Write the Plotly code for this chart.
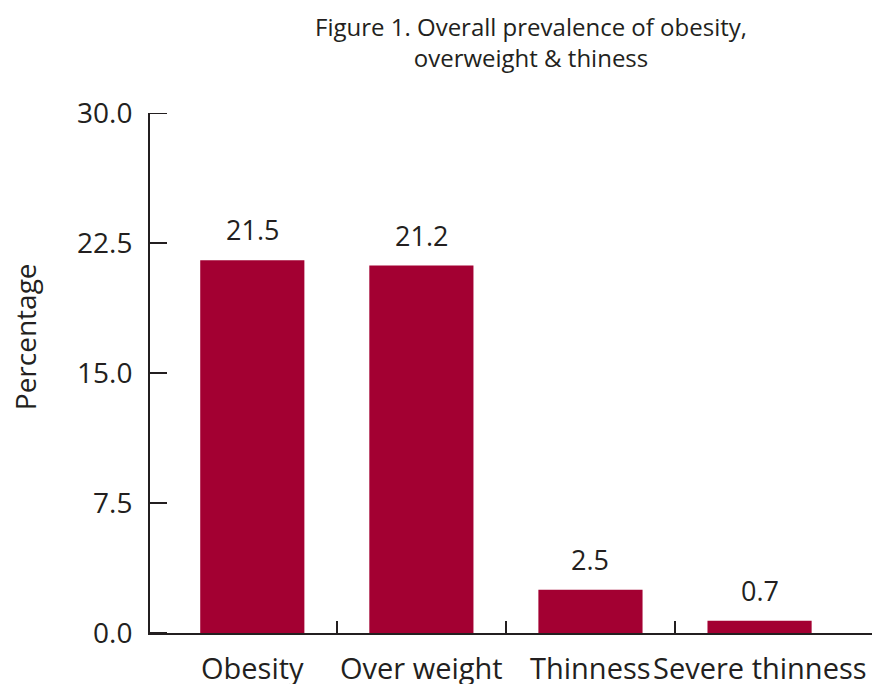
import plotly.graph_objects as go

categories = ["Obesity", "Over weight", "Thinness", "Severe thinness"]
values = [21.5, 21.2, 2.5, 0.7]
value_labels = ["21.5", "21.2", "2.5", "0.7"]
y_ticks = [0, 7.5, 15, 22.5, 30]
y_tick_labels = ["0.0", "7.5", "15.0", "22.5", "30.0"]

FONT = "Open Sans"
TXT = "#231f20"
BAR = "#a30032"
positions = list(range(len(categories)))
boundaries = [p + 0.5 for p in positions[:-1]]
xr = [-0.605, 3.665]
plot_w = 872 - 150
tick_units = 17 / plot_w * (xr[1] - xr[0])

fig = go.Figure()
fig.add_trace(go.Bar(x=positions, y=values, marker=dict(color=BAR, line=dict(width=0)),
                     width=0.616, showlegend=False, hoverinfo="skip"))

# inward-pointing y tick marks, drawn as a line trace on the axes' own scales
tx, ty = [], []
for t in y_ticks:
    tx += [xr[0], xr[0] + tick_units, None]
    ty += [t, t, None]
fig.add_trace(go.Scatter(x=tx, y=ty, mode="lines", line=dict(color=TXT, width=2),
                         showlegend=False, hoverinfo="skip", cliponaxis=False))

for p, v, t in zip(positions, values, value_labels):
    fig.add_annotation(x=p, y=v, text=t, showarrow=False, yanchor="bottom", yshift=10,
                       font=dict(family=FONT, size=27, color=TXT))

for p, c in zip(positions, categories):
    fig.add_annotation(x=p, y=0, yref="paper", text=c, showarrow=False, yanchor="middle",
                       yshift=-34, font=dict(family=FONT, size=29, color=TXT))

fig.add_annotation(x=-0.173, y=0.569, xref="paper", yref="paper", text="Percentage",
                   textangle=-90, showarrow=False, xanchor="center", yanchor="middle",
                   font=dict(family=FONT, size=28, color=TXT))

fig.add_annotation(x=(531 - 150) / plot_w, y=1.1365, xref="paper", yref="paper",
                   text="Figure 1. Overall prevalence of obesity,<br>overweight & thiness",
                   showarrow=False, xanchor="center", yanchor="middle",
                   font=dict(family=FONT, size=24, color=TXT))

for t in y_ticks:
    fig.add_shape(type="line", xref="paper", yref="y", x0=0, x1=17 / plot_w, y0=t, y1=t,
                  line=dict(color=TXT, width=2), layer="above")

fig.update_layout(
    width=872, height=684,
    margin=dict(l=150, r=0, t=113, b=51, autoexpand=False),
    plot_bgcolor="white", paper_bgcolor="white",
    font=dict(family=FONT, color=TXT),
    xaxis=dict(range=xr, tickmode="array", tickvals=boundaries,
               ticktext=["" for _ in boundaries], automargin=False,
               ticks="inside", ticklen=12, tickwidth=2, tickcolor=TXT,
               showline=True, linecolor=TXT, linewidth=2, showgrid=False, zeroline=False),
    yaxis=dict(range=[0, 30], tickmode="array", tickvals=y_ticks, ticktext=y_tick_labels,
               ticks="inside", ticklen=17, tickwidth=2, tickcolor=TXT, automargin=False,
               showline=True, linecolor=TXT, linewidth=2, showgrid=False, zeroline=False,
               tickfont=dict(family=FONT, size=28, color=TXT), ticklabelstandoff=10),
)

fig.write_html("out.html")
